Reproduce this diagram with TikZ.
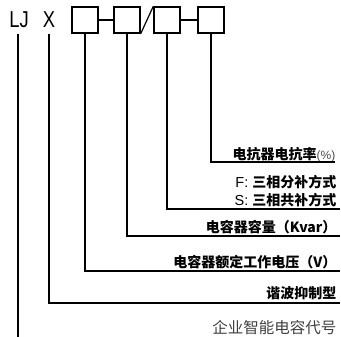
\documentclass[tikz,border=0pt]{standalone}
\usepackage{fontspec}
\setmainfont{Liberation Sans}
\newfontfamily\cjk{Noto Sans CJK SC}
\begin{document}
\begin{tikzpicture}[x=1pt,y=-1pt,line width=1.2pt,
  box/.style={draw,minimum width=26pt,minimum height=26pt,inner sep=0pt,line width=1.4pt},
  code/.style={inner sep=0pt,font=\fontsize{23}{23}\selectfont,xscale=0.8},
  lab/.style={anchor=east,inner sep=0pt,font=\cjk\bfseries\fontsize{14}{15}\selectfont},
  labn/.style={anchor=east,inner sep=0pt,font=\cjk\fontsize{15.5}{16}\selectfont,text=black!75}]
\useasboundingbox (0,0) rectangle (341,337);
% code letters and boxes
\node[code] (lj) at (19,20) {LJ};
\node[code] (x) at (49,20) {X};
\node[box] (b1) at (85,20) {};
\node[box] (b2) at (127,20) {};
\node[box] (b3) at (167,20) {};
\node[box] (b4) at (211,20) {};
\draw (b1.east) -- (b2.west);
\draw (b3.east) -- (b4.west);
\draw (b2.south east) -- (b3.north west);
% labels
\node[lab] (t4) at (336,155) {电抗器电抗率{\normalfont\fontsize{12}{12}\selectfont\color{black!70}(\%)}};
\node[lab] (t3a) at (337,182) {{\mdseries\normalfont\fontsize{14.5}{15}\selectfont F: }三相分补方式};
\node[lab] (t3b) at (337,200) {{\mdseries\normalfont\fontsize{14.5}{15}\selectfont S: }三相共补方式};
\node[lab] (t2) at (337,227) {电容器容量（Kvar）};
\node[lab] (t1) at (337,262) {电容器额定工作电压（V）};
\node[lab] (tx) at (337,293) {谐波抑制型};
\node[labn] (tlj) at (337,328) {企业智能电容代号};
% corner coordinates
\coordinate (e4) at (335,162);
\coordinate (e3) at (340,209);
\coordinate (e2) at (340,236);
\coordinate (e1) at (340,271);
\coordinate (ex) at (340,303);
\coordinate (elj) at (18,337);
% leader lines
\draw (b4.south) -- (b4.south |- e4) -- (e4);
\draw (b3.south) -- (b3.south |- e3) -- (e3);
\draw (b2.south) -- (b2.south |- e2) -- (e2);
\draw (b1.south) -- (b1.south |- e1) -- (e1);
\draw (x.south |- b1.south) -- (x.south |- ex) -- (ex);
\draw (elj |- b1.south) -- (elj);
\end{tikzpicture}
\end{document}
